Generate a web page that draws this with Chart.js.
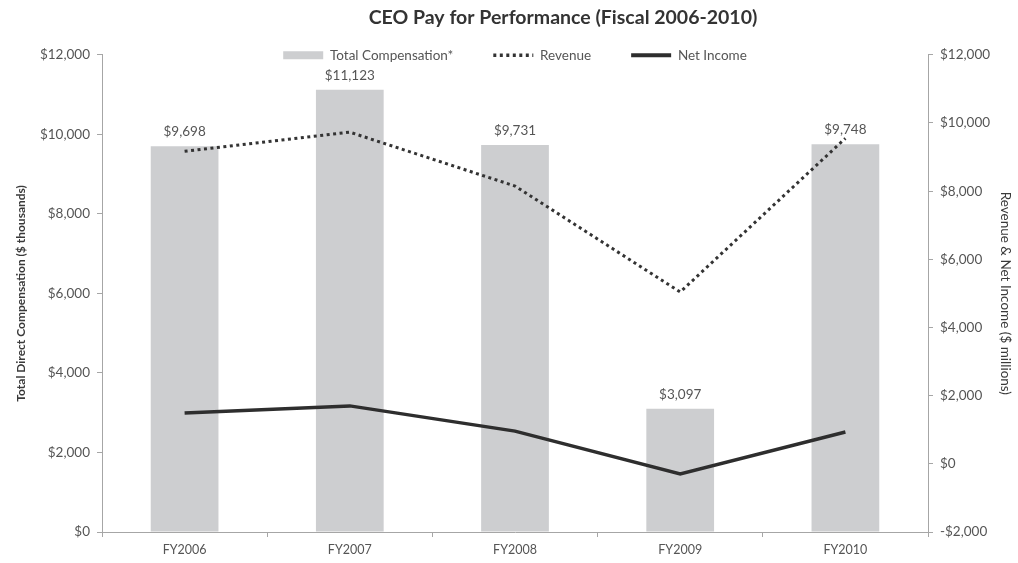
<!DOCTYPE html>
<html>
<head>
<meta charset="utf-8">
<script src="https://cdn.jsdelivr.net/npm/chart.js@4.4.0/dist/chart.umd.min.js"></script>
<style>
  html, body { margin: 0; padding: 0; background: #ffffff; }
  #wrap { width: 1018px; height: 563px; position: relative; }
</style>
</head>
<body>
<div id="wrap"><canvas id="c" width="1018" height="563"></canvas></div>
<script>
const categories = ['FY2006', 'FY2007', 'FY2008', 'FY2009', 'FY2010'];
const compensation = [9698, 11123, 9731, 3097, 9748];
const revenue = [9170, 9730, 8150, 5040, 9550];
const netIncome = [1490, 1700, 960, -300, 935];
const leftTicks = [0, 2000, 4000, 6000, 8000, 10000, 12000];
const rightTicks = [-2000, 0, 2000, 4000, 6000, 8000, 10000, 12000];

const FONT = 'Lato, "Open Sans", sans-serif';
const money = v => (v < 0 ? '-$' : '$') + Math.abs(v).toLocaleString('en-US');

const barLabels = {
  id: 'barLabels',
  afterDatasetsDraw(chart) {
    const ctx = chart.ctx;
    const meta = chart.getDatasetMeta(0);
    ctx.save();
    ctx.font = '13.5px ' + FONT;
    ctx.fillStyle = '#555555';
    ctx.textAlign = 'center';
    ctx.textBaseline = 'alphabetic';
    meta.data.forEach((el, i) => {
      ctx.fillText(money(compensation[i]), el.x, el.y - 10);
    });
    ctx.restore();
  }
};

const legendFit = {
  id: 'legendFit',
  beforeInit(chart) {
    const lg = chart.legend;
    const orig = lg.fit;
    lg.fit = function () {
      orig.bind(lg)();
      this.height = 46.4;
    };
    lg.draw = function () {
      if (this.options.display) { this._draw(); }
    };
  },
  afterLayout(chart) {
    const t = chart.titleBlock;
    if (t) { t.left = 108; t.right = 1018; }
  }
};

new Chart(document.getElementById('c'), {
  data: {
    labels: categories,
    datasets: [
      {
        type: 'bar',
        label: 'Total Compensation*',
        data: compensation,
        yAxisID: 'y',
        backgroundColor: '#cdced0',
        borderWidth: 0,
        barPercentage: 1,
        categoryPercentage: 0.41,
        pointStyle: 'rect',
        order: 3
      },
      {
        type: 'line',
        label: 'Revenue',
        data: revenue,
        yAxisID: 'y1',
        borderColor: '#333333',
        backgroundColor: '#333333',
        borderWidth: 3,
        borderDash: [3, 3.5],
        pointRadius: 0,
        pointStyle: 'line',
        tension: 0,
        order: 2
      },
      {
        type: 'line',
        label: 'Net Income',
        data: netIncome,
        yAxisID: 'y1',
        borderColor: '#2e2e2e',
        backgroundColor: '#2e2e2e',
        borderWidth: 3.5,
        pointRadius: 0,
        pointStyle: 'line',
        tension: 0,
        order: 1
      }
    ]
  },
  options: {
    responsive: false,
    animation: false,
    layout: { padding: 0 },
    plugins: {
      tooltip: { enabled: false },
      title: {
        display: true,
        text: 'CEO Pay for Performance (Fiscal 2006-2010)',
        color: '#333333',
        font: { family: FONT, size: 19.5, weight: 'bold' },
        padding: { top: 6, bottom: -21 }
      },
      legend: {
        display: true,
        position: 'top',
        fullSize: false,
        labels: {
          usePointStyle: true,
          pointStyleWidth: 40,
          boxHeight: 8,
          padding: 40,
          color: '#555555',
          font: { family: FONT, size: 13.5 },
          sort: (a, b) => a.datasetIndex - b.datasetIndex,
          generateLabels(chart) {
            const items = Chart.defaults.plugins.legend.labels.generateLabels(chart);
            items.forEach(it => {
              const ds = chart.data.datasets[it.datasetIndex];
              if (ds.type === 'line') {
                it.lineWidth = ds.borderDash ? 3.5 : 4;
                it.lineDash = ds.borderDash || [];
                it.strokeStyle = ds.borderColor;
                it.fillStyle = ds.borderColor;
              }
            });
            return items;
          }
        }
      }
    },
    scales: {
      x: {
        type: 'category',
        offset: true,
        border: { display: true, color: '#a6a6a6', width: 1 },
        grid: { display: true, drawOnChartArea: false, drawTicks: true, tickLength: 5, offset: true, color: '#a6a6a6' },
        ticks: { color: '#555555', font: { family: FONT, size: 12.5 }, padding: 5 },
        afterFit(scale) { scale.height = 31; }
      },
      y: {
        type: 'linear',
        position: 'left',
        min: 0,
        max: 12000,
        afterBuildTicks(scale) { scale.ticks = leftTicks.map(v => ({ value: v })); },
        border: { display: true, color: '#a6a6a6', width: 1 },
        grid: { display: true, drawOnChartArea: false, drawTicks: true, tickLength: 5, color: '#a6a6a6' },
        ticks: { color: '#555555', font: { family: FONT, size: 13.5 }, padding: 7, callback: v => money(v) },
        title: {
          display: true,
          text: 'Total Direct Compensation ($ thousands)',
          color: '#3a3a3a',
          font: { family: FONT, size: 12, weight: 'bold' },
          padding: { top: 14, bottom: 0 }
        },
        afterFit(scale) { scale.width = 102; }
      },
      y1: {
        type: 'linear',
        position: 'right',
        min: -2000,
        max: 12000,
        afterBuildTicks(scale) { scale.ticks = rightTicks.map(v => ({ value: v })); },
        border: { display: true, color: '#a6a6a6', width: 1 },
        grid: { display: true, drawOnChartArea: false, drawTicks: true, tickLength: 5, color: '#a6a6a6' },
        ticks: { color: '#555555', font: { family: FONT, size: 13.5 }, padding: 7, callback: v => money(v) },
        title: {
          display: true,
          text: 'Revenue & Net Income ($ millions)',
          color: '#3a3a3a',
          font: { family: FONT, size: 13.5 },
          padding: { top: 5, bottom: 0 }
        },
        afterFit(scale) { scale.width = 90; }
      }
    }
  },
  plugins: [barLabels, legendFit]
});
</script>
</body>
</html>
